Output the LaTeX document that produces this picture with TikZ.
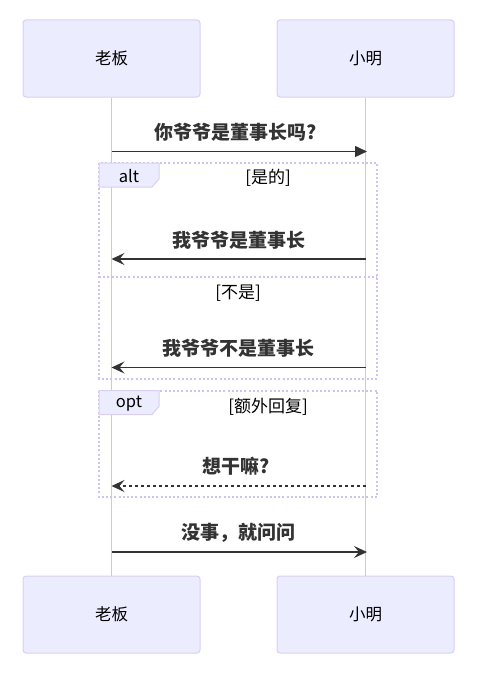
\documentclass[tikz,border=0pt]{standalone}
\usepackage{fontspec}
\setmainfont{Noto Sans CJK SC}
\usetikzlibrary{arrows.meta}
\definecolor{actfill}{HTML}{ECECFF}
\definecolor{actline}{HTML}{DACEF3}
\definecolor{frameline}{HTML}{CFC2F2}
\definecolor{lifeline}{HTML}{CCCCCC}
\definecolor{msg}{HTML}{333333}
\tikzset{
  actor/.style={draw=actline, line width=1pt, fill=actfill, rounded corners=3pt,
    minimum width=177pt, minimum height=77pt, inner sep=0pt,
    font=\fontsize{16.5pt}{18pt}\selectfont, text=black},
  life/.style={draw=lifeline, line width=1pt},
  msgline/.style={draw=msg, line width=1.5pt},
  msgtext/.style={font=\bfseries\fontsize{19pt}{20pt}\selectfont, text=msg, inner sep=0pt},
  frame/.style={draw=frameline, line width=2pt, dash pattern=on 2pt off 2.2pt},
  tab/.style={draw=actline, line width=1pt, fill=actfill},
  tabtext/.style={font=\fontsize{16.5pt}{18pt}\selectfont, text=black, inner sep=0pt},
  condtext/.style={font=\fontsize{17pt}{19pt}\selectfont, text=black, inner sep=0pt},
  solidtip/.style={-{Triangle[length=12pt,width=11pt]}},
  opentip/.style={-{Stealth[length=13pt,width=12pt,inset=5pt]}},
}
\begin{document}
\begin{tikzpicture}[x=1pt,y=-1pt]
\useasboundingbox (0,0) rectangle (500,677);
% actors
\node[actor] (a) at (111.5,58.5) {老板};
\node[actor] (b) at (365.5,58.5) {小明};
\node[actor] (a2) at (111.5,614.5) {老板};
\node[actor] (b2) at (365.5,614.5) {小明};
% lifelines
\draw[life] (a.south) -- (a2.north);
\draw[life] (b.south) -- (b2.north);
% frames
\draw[frame] (99,163) rectangle (377,378.5);
\draw[frame] (99,277) -- (377,277);
\draw[tab] (99,163) -- (159,163) -- (159,179) -- (152,187) -- (99,187) -- cycle;
\node[tabtext] (altlbl) at (129,176) {alt};
\node[condtext] (c1) at (268,178) {[是的]};
\node[condtext] (c2) at (238,293) {[不是]};
\draw[frame] (99,390.5) rectangle (377,497);
\draw[tab] (99,390.5) -- (159,390.5) -- (159,406.5) -- (152,414.5) -- (99,414.5) -- cycle;
\node[tabtext] (optlbl) at (129,404) {opt};
\node[condtext] (c3) at (268,406.5) {[额外回复]};
% message coordinates
\coordinate (m1a) at (111.5,151.5);
\coordinate (m1b) at (367,151.5);
\coordinate (m2a) at (111.5,259);
\coordinate (m2b) at (365.5,259);
\coordinate (m3a) at (111.5,367.5);
\coordinate (m3b) at (365.5,367.5);
\coordinate (m4a) at (111.5,486);
\coordinate (m4b) at (365.5,486);
\coordinate (m5a) at (111.5,552);
\coordinate (m5b) at (367,552);
% messages
\node[msgtext] (t1) at (236,132.5) {你爷爷是董事长吗?};
\draw[msgline, solidtip] (m1a) -- (m1b);
\node[msgtext] (t2) at (238.5,240.5) {我爷爷是董事长};
\draw[msgline, opentip] (m2b) -- (m2a);
\node[msgtext] (t3) at (238.5,348) {我爷爷不是董事长};
\draw[msgline, opentip] (m3b) -- (m3a);
\node[msgtext] (t4) at (236,466.5) {想干嘛?};
\draw[msgline, opentip, line width=1.3pt, dash pattern=on 3pt off 3pt] (m4b) -- (m4a);
\node[msgtext] (t5) at (238.5,533) {没事，就问问};
\draw[msgline, opentip] (m5a) -- (m5b);
\end{tikzpicture}
\end{document}
